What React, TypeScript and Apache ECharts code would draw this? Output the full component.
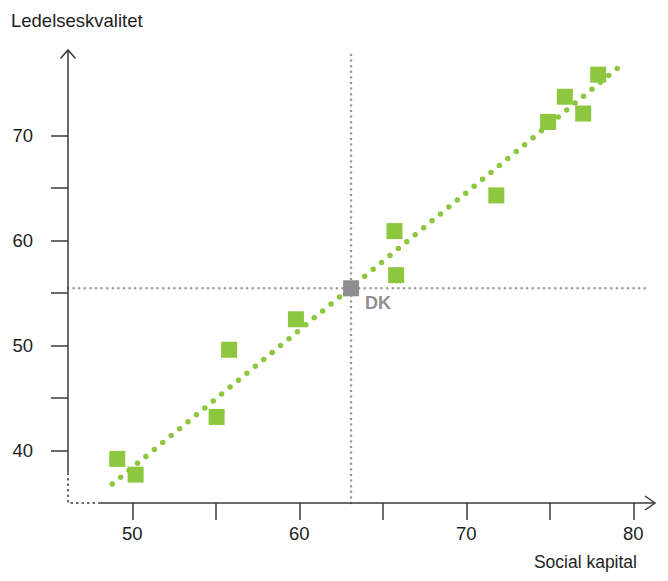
import React, { useEffect, useRef } from "react";
import * as echarts from "echarts";

// Axis ticks / labels
const xTickValues = [50, 55, 60, 65, 70, 75, 80];
const xLabelValues = [50, 60, 70, 80];
const yTickValues = [40, 45, 50, 55, 60, 65, 70];
const yLabelValues = [40, 50, 60, 70];

// Axis extents (broken-axis style: dotted segment near origin)
const xRange = [46.15, 81.3];
const yRange = [35, 78.15];
const xSolidFrom = 48;
const ySolidFrom = 37.9;
const refLineEndX = 81.0;

// Countries (green squares)
const socialKapital = [49.1, 50.2, 55.05, 55.8, 59.8, 65.8, 65.7, 71.8, 74.9, 75.9, 77.0, 77.9];
const ledelseskvalitet = [39.2, 37.7, 43.2, 49.6, 52.5, 56.7, 60.9, 64.3, 71.3, 73.7, 72.1, 75.8];

// Denmark
const dkName = "DK";
const dkValue = [63.1, 55.45];

// Trend line
const trendX = [48.8, 79.35];
const trendY = [36.8, 76.8];

const xAxisTitle = "Social kapital";
const yAxisTitle = "Ledelseskvalitet";

const GREEN = "#8dc63f";
const GRAY = "#8e8d92";
const AXIS = "#3a3a3a";
const FONT = "Liberation Sans, Arial, sans-serif";

export default function App() {
  const ref = useRef<HTMLDivElement>(null);

  useEffect(() => {
    if (!ref.current) return;
    const chart = echarts.init(ref.current, null, { renderer: "svg" });

    const lineBase = {
      type: "line",
      symbol: "none",
      silent: true,
      clip: false,
      animation: false,
    };

    const option: any = {
      animation: false,
      grid: { left: 68, right: 13, top: 50, bottom: 78 },
      xAxis: {
        type: "value",
        min: xRange[0],
        max: xRange[1],
        axisLine: { show: false },
        splitLine: { show: false },
        axisTick: {
          show: true,
          customValues: xTickValues,
          length: 17,
          lineStyle: { color: AXIS, width: 1.5 },
        },
        axisLabel: {
          customValues: xLabelValues,
          margin: 21,
          fontSize: 18.5,
          fontFamily: FONT,
          color: "#1e1e1e",
        },
      },
      yAxis: {
        type: "value",
        min: yRange[0],
        max: yRange[1],
        axisLine: { show: false },
        splitLine: { show: false },
        axisTick: {
          show: true,
          customValues: yTickValues,
          length: 17,
          lineStyle: { color: AXIS, width: 1.5 },
        },
        axisLabel: {
          customValues: yLabelValues,
          margin: 35,
          fontSize: 18.5,
          fontFamily: FONT,
          color: "#1e1e1e",
        },
      },
      series: [
        // DK reference lines
        {
          ...lineBase,
          z: 1,
          data: [
            [xRange[0], dkValue[1]],
            [refLineEndX, dkValue[1]],
          ],
          lineStyle: { color: "#969696", width: 2.5, type: [0, 5.6], cap: "round" },
        },
        {
          ...lineBase,
          z: 1,
          data: [
            [dkValue[0], yRange[0]],
            [dkValue[0], yRange[1]],
          ],
          lineStyle: { color: "#969696", width: 2.5, type: [0, 5.6], cap: "round" },
        },
        // Axis lines (solid part)
        {
          ...lineBase,
          z: 3,
          data: [
            [xSolidFrom, yRange[0]],
            [xRange[1], yRange[0]],
          ],
          lineStyle: { color: AXIS, width: 1.5 },
        },
        {
          ...lineBase,
          z: 3,
          data: [
            [xRange[0], ySolidFrom],
            [xRange[0], yRange[1]],
          ],
          lineStyle: { color: AXIS, width: 1.5 },
        },
        // Axis lines (dotted break part)
        {
          ...lineBase,
          z: 3,
          data: [
            [xRange[0], ySolidFrom],
            [xRange[0], yRange[0]],
            [xSolidFrom, yRange[0]],
          ],
          lineStyle: { color: AXIS, width: 1.5, type: [2.5, 3] },
        },
        // Trend line
        {
          ...lineBase,
          z: 2,
          data: trendX.map((x, i) => [x, trendY[i]]),
          lineStyle: { color: GREEN, width: 5.5, type: [0, 10.9], cap: "round" },
        },
        // Countries
        {
          type: "scatter",
          z: 4,
          symbol: "rect",
          symbolSize: 16,
          itemStyle: { color: GREEN, opacity: 1 },
          emphasis: { disabled: true },
          data: socialKapital.map((x, i) => [x, ledelseskvalitet[i]]),
        },
        // Denmark
        {
          type: "scatter",
          z: 5,
          symbol: "rect",
          symbolSize: 16,
          itemStyle: { color: GRAY, opacity: 1 },
          emphasis: { disabled: true },
          label: {
            show: true,
            formatter: dkName,
            position: [22, 14],
            fontSize: 18,
            fontWeight: "bold",
            fontFamily: FONT,
            color: "#8f8f8f",
          },
          data: [dkValue],
        },
      ],
    };

    chart.setOption(option);

    const p = (x: number, y: number) =>
      chart.convertToPixel({ gridIndex: 0 }, [x, y]) as number[];
    const xEnd = p(xRange[1], yRange[0]);
    const yEnd = p(xRange[0], yRange[1]);

    chart.setOption({
      graphic: [
        {
          type: "polyline",
          shape: {
            points: [
              [xEnd[0] - 10, xEnd[1] - 7],
              [xEnd[0], xEnd[1]],
              [xEnd[0] - 10, xEnd[1] + 7],
            ],
          },
          style: { stroke: AXIS, lineWidth: 1.5, fill: "none" },
          z: 10,
        },
        {
          type: "polyline",
          shape: {
            points: [
              [yEnd[0] - 7.5, yEnd[1] + 8.5],
              [yEnd[0], yEnd[1]],
              [yEnd[0] + 7.5, yEnd[1] + 8.5],
            ],
          },
          style: { stroke: AXIS, lineWidth: 1.5, fill: "none" },
          z: 10,
        },
        {
          type: "text",
          x: 11,
          y: 20,
          style: {
            text: yAxisTitle,
            font: `18.5px ${FONT}`,
            fill: "#1e1e1e",
            align: "left",
            verticalAlign: "middle",
          },
        },
        {
          type: "text",
          x: 637,
          y: 562,
          style: {
            text: xAxisTitle,
            font: `17.5px ${FONT}`,
            fill: "#1e1e1e",
            align: "right",
            verticalAlign: "middle",
          },
        },
      ],
    });

    return () => chart.dispose();
  }, []);

  return (
    <div
      ref={ref}
      style={{ position: "fixed", left: 0, top: 0, width: 668, height: 581, background: "#fff" }}
    />
  );
}
